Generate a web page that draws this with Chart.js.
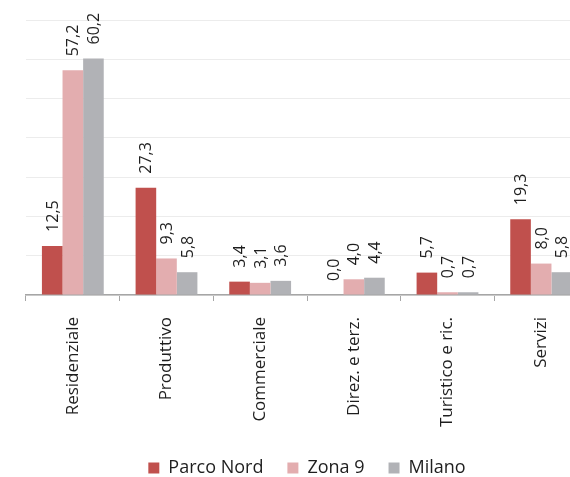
<!DOCTYPE html>
<html>
<head>
  <meta charset="utf-8">
  <title>Parco Nord - Zona 9 - Milano</title>
  <script src="https://cdn.jsdelivr.net/npm/chart.js@4.4.0/dist/chart.umd.min.js"></script>
  <style>
    body { margin: 0; overflow: hidden; background: #fff; }
    #wrap { position: absolute; left: 0; top: 0; }
  </style>
</head>
<body>
<div id="wrap">
  <canvas id="myChart" width="625" height="477"></canvas>
</div>
<script>
  var categories = ['Residenziale', 'Produttivo', 'Commerciale', 'Direz. e terz.', 'Turistico e ric.', 'Servizi'];
  var parcoNord = [12.5, 27.3, 3.4, 0.0, 5.7, 19.3];
  var zona9 = [57.2, 9.3, 3.1, 4.0, 0.7, 8.0];
  var milano = [60.2, 5.8, 3.6, 4.4, 0.7, 5.8];
  var seriesNames = ['Parco Nord', 'Zona 9', 'Milano'];
  var seriesColors = ['#c0504d', '#e3adaf', '#b1b2b6'];

  var font = "'Open Sans', sans-serif";
  var textColor = '#1e1e1e';

  // rotated value labels above each bar, e.g. "12,5"
  var barLabels = {
    id: 'barLabels',
    afterDatasetsDraw: function(chart) {
      var ctx = chart.ctx;
      ctx.save();
      ctx.font = '16px ' + font;
      ctx.fillStyle = textColor;
      ctx.textAlign = 'left';
      ctx.textBaseline = 'middle';
      chart.data.datasets.forEach(function(ds, i) {
        chart.getDatasetMeta(i).data.forEach(function(bar, j) {
          var txt = ds.data[j].toFixed(1).replace('.', ',');
          ctx.save();
          ctx.translate(bar.x + 1, bar.y - 14);
          ctx.rotate(-Math.PI / 2);
          ctx.fillText(txt, 0, 0);
          ctx.restore();
        });
      });
      ctx.restore();
    }
  };

  var ctx = document.getElementById('myChart').getContext('2d');
  var chart = new Chart(ctx, {
    type: 'bar',
    data: {
      labels: categories,
      datasets: [
        { label: seriesNames[0], data: parcoNord, backgroundColor: seriesColors[0] },
        { label: seriesNames[1], data: zona9, backgroundColor: seriesColors[1] },
        { label: seriesNames[2], data: milano, backgroundColor: seriesColors[2] }
      ]
    },
    options: {
      responsive: false,
      animation: false,
      devicePixelRatio: 1,
      categoryPercentage: 0.66,
      barPercentage: 1.0,
      layout: { padding: { top: 20, left: 26, right: 37, bottom: -10 } },
      scales: {
        x: {
          grid: {
            display: true,
            offset: true,
            drawOnChartArea: false,
            drawTicks: true,
            tickLength: 6,
            color: '#a6a6a6'
          },
          border: { display: true, color: '#a6a6a6', width: 1.5 },
          ticks: {
            maxRotation: 90,
            minRotation: 90,
            padding: 16,
            color: textColor,
            font: { family: font, size: 17 }
          },
          afterFit: function(scale) { scale.height = 140; }
        },
        y: {
          min: 0,
          max: 70,
          ticks: { display: false, stepSize: 10 },
          grid: { color: '#ececec', drawTicks: false },
          border: { display: false }
        }
      },
      plugins: {
        legend: {
          position: 'bottom',
          labels: {
            boxWidth: 11,
            boxHeight: 11,
            padding: 24,
            color: textColor,
            font: { family: font, size: 18 }
          }
        },
        tooltip: { enabled: false }
      }
    },
    plugins: [barLabels]
  });
</script>
</body>
</html>
